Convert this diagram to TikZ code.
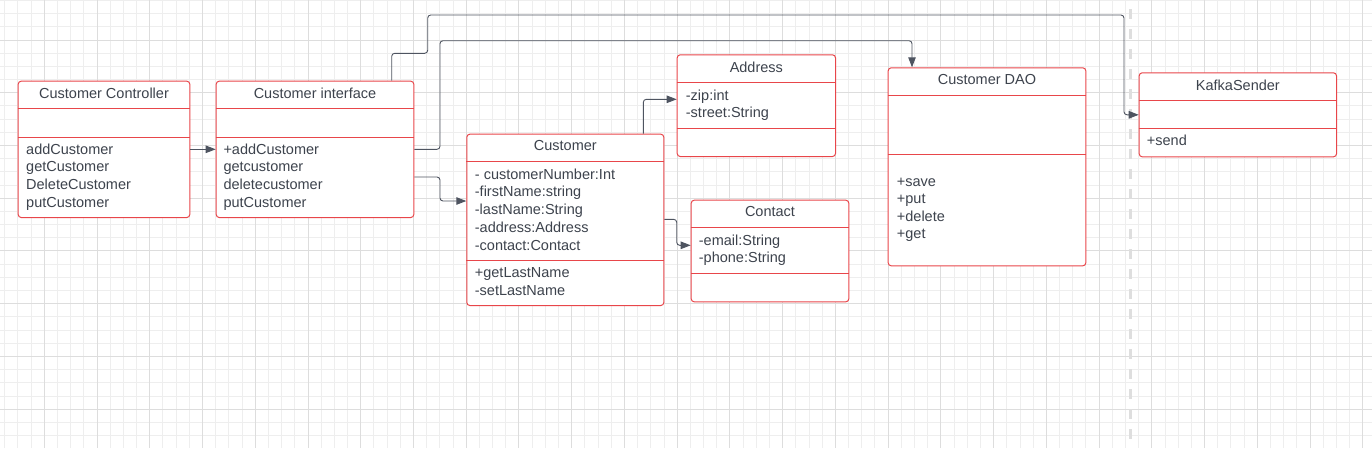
\documentclass[tikz,border=0pt]{standalone}
\usepackage{fontspec}
\setmainfont{Liberation Sans}
\usetikzlibrary{arrows.meta}

\definecolor{boxred}{RGB}{232,70,74}
\definecolor{inkgray}{RGB}{61,67,77}
\definecolor{wiregray}{RGB}{78,84,96}
\definecolor{gridminor}{RGB}{238,238,238}
\definecolor{gridmajor}{RGB}{221,221,221}
\definecolor{splitgray}{RGB}{222,222,222}

\tikzset{
  classbox/.style={draw=boxred, line width=1pt, rounded corners=3pt, fill=white, anchor=north west, inner sep=0pt},
  sepline/.style={draw=boxred, line width=1pt},
  ctitle/.style={anchor=base, inner sep=0pt, text=inkgray, font=\fontsize{14.5}{18}\selectfont},
  member/.style={anchor=base west, inner sep=0pt, text=inkgray, font=\fontsize{14.5}{18}\selectfont},
  wire/.style={draw=wiregray, line width=0.9pt, rounded corners=3pt, -{Triangle[length=10pt,width=7.5pt]}},
}

\begin{document}
\begin{tikzpicture}[x=1pt, y=-1pt]
  \useasboundingbox (0,0) rectangle (1372,448);

  % background grid
  \foreach \i in {0,...,103}
    \draw[gridminor, line width=1pt] ({4.745+13.185*\i},0) -- ({4.745+13.185*\i},448);
  \foreach \j in {0,...,33}
    \draw[gridminor, line width=1pt] (0,{0.445+13.185*\j}) -- (1372,{0.445+13.185*\j});
  \foreach \i in {0,...,25}
    \draw[gridmajor, line width=1pt] ({44.3+52.74*\i},0) -- ({44.3+52.74*\i},448);
  \foreach \j in {0,...,7}
    \draw[gridmajor, line width=1pt] (0,{40+52.74*\j}) -- (1372,{40+52.74*\j});

  % dashed split line
  \draw[splitgray, line width=3pt, dash pattern=on 10pt off 10pt] (1130.3,9) -- (1130.3,448);

  % class boxes
  \node[classbox, minimum width=171.6pt, minimum height=136.3pt] (ctrl) at (17.7,80.7) {};
  \node[classbox, minimum width=197.6pt, minimum height=136.3pt] (iface) at (215.7,80.7) {};
  \node[classbox, minimum width=197pt, minimum height=171.3pt] (cust) at (466.3,133.7) {};
  \node[classbox, minimum width=158.3pt, minimum height=101.7pt] (addr) at (676.7,54.3) {};
  \node[classbox, minimum width=157.6pt, minimum height=101.6pt] (cont) at (690.7,199.7) {};
  \node[classbox, minimum width=197.6pt, minimum height=198pt] (dao) at (887.7,67.3) {};
  \node[classbox, minimum width=197.3pt, minimum height=84pt] (kafka) at (1138.7,72.3) {};

  % compartments
  \draw[sepline] (ctrl.west |- 0,108.7) -- (ctrl.east |- 0,108.7);
  \draw[sepline] (ctrl.west |- 0,137) -- (ctrl.east |- 0,137);
  \draw[sepline] (iface.west |- 0,108.7) -- (iface.east |- 0,108.7);
  \draw[sepline] (iface.west |- 0,137) -- (iface.east |- 0,137);
  \draw[sepline] (cust.west |- 0,161.7) -- (cust.east |- 0,161.7);
  \draw[sepline] (cust.west |- 0,260) -- (cust.east |- 0,260);
  \draw[sepline] (addr.west |- 0,82.3) -- (addr.east |- 0,82.3);
  \draw[sepline] (addr.west |- 0,128.3) -- (addr.east |- 0,128.3);
  \draw[sepline] (cont.west |- 0,227.7) -- (cont.east |- 0,227.7);
  \draw[sepline] (cont.west |- 0,273.3) -- (cont.east |- 0,273.3);
  \draw[sepline] (dao.west |- 0,95.3) -- (dao.east |- 0,95.3);
  \draw[sepline] (dao.west |- 0,154.3) -- (dao.east |- 0,154.3);
  \draw[sepline] (kafka.west |- 0,100.3) -- (kafka.east |- 0,100.3);
  \draw[sepline] (kafka.west |- 0,128.3) -- (kafka.east |- 0,128.3);

  % titles
  \node[ctitle] (ctrl-t) at ([yshift=-18pt]ctrl.north) {Customer Controller};
  \node[ctitle] (iface-t) at ([yshift=-18pt]iface.north) {Customer interface};
  \node[ctitle] (cust-t) at ([yshift=-17pt]cust.north) {Customer};
  \node[ctitle] (addr-t) at ([yshift=-17.7pt]addr.north) {Address};
  \node[ctitle] (cont-t) at ([yshift=-16.6pt]cont.north) {Contact};
  \node[ctitle] (dao-t) at ([yshift=-17.4pt]dao.north) {Customer DAO};
  \node[ctitle] (kafka-t) at ([yshift=-17.7pt]kafka.north) {KafkaSender};

  % members
  \foreach \m [count=\i from 0] in {addCustomer,getCustomer,DeleteCustomer,putCustomer}
    \node[member] (ctrl-m\i) at (26,154+17.8*\i) {\m};
  \foreach \m [count=\i from 0] in {+addCustomer,getcustomer,deletecustomer,putCustomer}
    \node[member] (iface-m\i) at (223.3,154+17.8*\i) {\m};
  \foreach \m [count=\i from 0] in {- customerNumber:Int,-firstName:string,-lastName:String,-address:Address,-contact:Contact}
    \node[member] (cust-a\i) at (474.7,179+17.8*\i) {\m};
  \foreach \m [count=\i from 0] in {+getLastName,-setLastName}
    \node[member] (cust-m\i) at (474.7,277.3+17.8*\i) {\m};
  \foreach \m [count=\i from 0] in {-zip:int,-street:String}
    \node[member] (addr-a\i) at (685.7,100+17.8*\i) {\m};
  \foreach \m [count=\i from 0] in {-email:String,-phone:String}
    \node[member] (cont-a\i) at (698.7,245+17.8*\i) {\m};
  \foreach \m [count=\i from 0] in {+save,+put,+delete,+get}
    \node[member] (dao-m\i) at (896.7,186+17.6*\i) {\m};
  \node[member] (kafka-m0) at (1146.7,145.7) {+send};

  % connectors
  \draw[wire] ([yshift=-68.6pt]ctrl.north east) -- ([yshift=-68.6pt]iface.north west);
  \draw[wire] ([yshift=-68.6pt]iface.north east) -| (440,40.7) -| ([xshift=24.3pt]dao.north west);
  \draw[wire] ([xshift=176pt]iface.north west) |- (427.7,53.3) |- (1124,15) |- (kafka.west);
  \draw[wire] ([yshift=-96.3pt]iface.north east) -| (440,201) -- ([yshift=-67.3pt]cust.north west);
  \draw[wire] ([xshift=177pt]cust.north west) |- ([yshift=-45pt]addr.north west);
  \draw[wire] ([yshift=-85.6pt]cust.north east) -| (676.7,245.3) -- ([yshift=-45.6pt]cont.north west);
\end{tikzpicture}
\end{document}
